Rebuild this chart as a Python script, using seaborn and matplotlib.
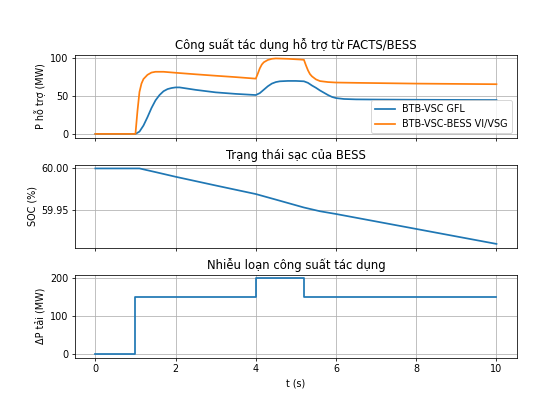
import numpy as np
import pandas as pd
import matplotlib
matplotlib.use("Agg")
import matplotlib.pyplot as plt
from matplotlib.ticker import FormatStrFormatter
import seaborn as sns

# ==========================================
# DATA
# ==========================================
t_gfl = [0, 1.0, 1.1, 1.2, 1.3, 1.4, 1.5, 1.6, 1.7, 1.8, 1.9, 2.0, 2.1, 2.5, 3.0, 3.5,
         4.0, 4.1, 4.2, 4.3, 4.4, 4.5, 4.6, 4.8, 5.0, 5.2, 5.3, 5.4, 5.5, 5.6,
         5.7, 5.8, 5.9, 6.0, 6.2, 6.5, 7.0, 8.0, 10.0]
p_gfl = [0, 0, 3, 11, 22, 34, 44, 51, 56, 58.8, 60.2, 61, 61, 57.8, 54.5, 52.5,
         51, 53.5, 58, 62.5, 66, 68, 69, 69.5, 69.5, 69, 67, 63.5, 60.5, 57,
         54, 51, 48.5, 47, 45.8, 45.3, 45.1, 44.8, 44.4]

t_vsg = [0, 1.0, 1.05, 1.1, 1.15, 1.2, 1.3, 1.4, 1.5, 1.7, 2.0, 2.5, 3.0, 3.5,
         4.0, 4.05, 4.1, 4.15, 4.2, 4.3, 4.4, 4.5, 4.8, 5.1, 5.2, 5.25, 5.3,
         5.35, 5.4, 5.5, 5.6, 5.8, 6.0, 6.5, 8.0, 10.0]
p_vsg = [0, 0, 30, 55, 66, 72, 77.5, 80.5, 81.5, 81.5, 80.2, 78.2, 76.3, 74.5,
         72.5, 79, 86, 91, 94, 97, 98.5, 99, 98.5, 97.6, 97.2, 90, 83.5,
         78.5, 75.5, 71.5, 69.3, 68, 67.4, 67, 66, 65.2]

t_soc = [0, 1.1, 1.5, 2.0, 3.0, 4.0, 4.5, 5.2, 5.6, 6.0, 8.0, 10.0]
soc = [60.000, 60.000, 59.9956, 59.990, 59.9795, 59.9692, 59.9625, 59.953,
       59.9485, 59.9452, 59.9272, 59.9092]

t_load = [0, 1.0, 4.0, 5.2, 10.0]
dp_load = [0, 150, 200, 150, 150]

labels = ["BTB-VSC GFL", "BTB-VSC-BESS VI/VSG"]

LW = 1.8

# ==========================================
# FIGURE
# ==========================================
fig, axes = plt.subplots(3, 1, figsize=(8, 411 / 69.5), dpi=69.5, sharex=True)
fig.subplots_adjust(left=0.1354, right=0.929, top=0.867, bottom=0.1297, hspace=0.325)

# 1. support power
ax = axes[0]
sns.lineplot(x=t_gfl, y=p_gfl, ax=ax, color="tab:blue", label=labels[0],
             estimator=None, linewidth=LW)
sns.lineplot(x=t_vsg, y=p_vsg, ax=ax, color="tab:orange", label=labels[1],
             estimator=None, linewidth=LW)
ax.set_title("Công suất tác dụng hỗ trợ từ FACTS/BESS")
ax.set_ylabel("P hỗ trợ (MW)")
ax.legend(loc="lower right")
ax.grid(True)

# 2. state of charge
ax = axes[1]
sns.lineplot(x=t_soc, y=soc, ax=ax, color="tab:blue", estimator=None, linewidth=LW)
ax.set_title("Trạng thái sạc của BESS")
ax.set_ylabel("SOC (%)")
ax.set_yticks([59.95, 60.00])
ax.yaxis.set_major_formatter(FormatStrFormatter("%.2f"))
ax.grid(True)

# 3. load disturbance
ax = axes[2]
sns.lineplot(x=t_load, y=dp_load, ax=ax, color="tab:blue", estimator=None,
             drawstyle="steps-post", linewidth=LW)
ax.set_title("Nhiễu loạn công suất tác dụng")
ax.set_ylabel("ΔP tải (MW)")
ax.set_xlabel("t (s)")
ax.set_xticks([0, 2, 4, 6, 8, 10])
ax.grid(True)

for a in axes:
    a.tick_params(labelbottom=(a is axes[2]))

plt.savefig("out.png", dpi=69.5)
plt.close()
